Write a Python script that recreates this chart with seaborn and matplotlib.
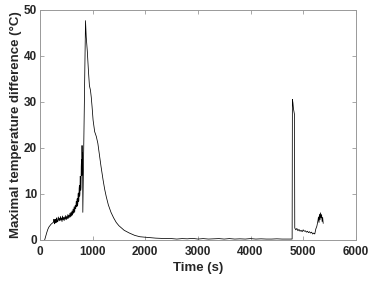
import matplotlib
matplotlib.use("Agg")
import matplotlib.pyplot as plt
import seaborn as sns
import pandas as pd

# start-up rise
t_start = [90, 110, 130, 150, 170, 190, 210, 230, 250]
v_start = [0.0, 0.8, 1.6, 2.3, 2.8, 3.1, 3.4, 3.6, 3.8]

# noisy build-up before the first peak
t_noisy = [260, 265, 270, 275, 280, 285, 290, 295, 300, 305, 310, 315, 320, 325,
           330, 340, 350, 360, 370, 380, 390, 400, 410, 420, 430, 440, 450, 460,
           470, 480, 490, 500, 510, 520, 530, 540, 550, 560, 570, 580, 590, 600,
           610, 620, 630, 640, 650, 660, 670, 680, 690, 700, 705, 710, 715, 720,
           725, 730, 735, 740, 745, 750, 755, 760, 765, 770, 775, 780, 785, 790,
           795, 800, 805, 810, 815]
v_noisy = [3.9, 4.5, 4.3, 3.5, 3.6, 4.4, 4.2, 3.7, 4.5, 3.9, 3.8, 4.8, 4.6, 3.9,
           4.0, 4.4, 5.0, 4.1, 4.7, 4.2, 5.1, 4.3, 4.8, 4.0, 5.2, 4.4, 4.9, 4.2,
           5.0, 4.5, 5.3, 4.4, 5.1, 4.6, 5.5, 4.7, 5.4, 4.9, 5.8, 5.0, 6.0, 5.2,
           6.3, 5.4, 6.7, 5.8, 7.2, 6.0, 7.5, 6.8, 8.4, 7.2, 8.8, 9.0, 7.4, 7.9,
           10.0, 10.2, 8.3, 8.6, 11.2, 11.8, 9.5, 10.0, 13.8, 13.5, 10.8, 11.5, 16.0, 17.5,
           14.0, 20.5, 16.0, 19.0, 6.0]

# main peak and decay
t_decay = [866, 880, 900, 920, 940, 960, 975, 990, 1010, 1040, 1070, 1100, 1130,
           1160, 1200, 1230, 1260, 1300, 1350, 1400, 1450, 1500, 1550, 1600, 1700,
           1800, 1900, 2000, 2100, 2200, 2300, 2400]
v_decay = [47.6, 44.0, 41.0, 37.0, 33.5, 32.5, 31.0, 29.0, 26.0, 23.5, 22.5, 21.0, 18.5,
           16.0, 13.0, 11.0, 9.4, 7.6, 6.0, 4.8, 3.8, 3.1, 2.6, 2.1, 1.5,
           1.0, 0.7, 0.6, 0.5, 0.4, 0.35, 0.3]

# flat stretch
t_flat = [2500, 2600, 2700, 2800, 2900, 3000, 3100, 3200, 3300, 3400, 3500, 3600,
          3700, 3800, 3900, 4000, 4100, 4200, 4300, 4400, 4500, 4600, 4700, 4790]
v_flat = [0.3, 0.2, 0.3, 0.25, 0.35, 0.2, 0.3, 0.2, 0.25, 0.3, 0.2, 0.3,
          0.2, 0.25, 0.2, 0.3, 0.2, 0.25, 0.2, 0.2, 0.25, 0.2, 0.2, 0.2]

# second event
t_end = [4795, 4805, 4815, 4825, 4835, 4840, 4860, 4880, 4900, 4920, 4940, 4960,
         4980, 5000, 5020, 5040, 5060, 5080, 5100, 5120, 5140, 5160, 5180, 5200,
         5220, 5240, 5260, 5280, 5290, 5300, 5310, 5320, 5330, 5340, 5350, 5360,
         5370, 5380]
v_end = [30.5, 29.8, 28.5, 27.8, 27.2, 2.6, 2.2, 2.5, 2.0, 2.3, 1.9, 2.1,
         1.8, 2.2, 1.9, 2.0, 1.7, 1.9, 1.6, 1.8, 1.5, 1.7, 1.3, 1.5,
         1.3, 2.4, 3.0, 4.2, 5.0, 3.8, 5.6, 4.4, 5.9, 4.8, 5.5, 4.0,
         4.9, 3.6]

df = pd.DataFrame({
    "time": t_start + t_noisy + t_decay + t_flat + t_end,
    "dT": v_start + v_noisy + v_decay + v_flat + v_end,
})

sns.set_style("ticks")
plt.rcParams["font.family"] = ["Liberation Sans", "DejaVu Sans"]
plt.rcParams["font.weight"] = "bold"

fig = plt.figure(figsize=(3.73, 2.82), dpi=100)
ax = fig.add_axes([0.107, 0.149, 0.847, 0.817])
sns.lineplot(data=df, x="time", y="dT", color="black", linewidth=0.55,
             estimator=None, sort=False, ax=ax)

ax.set_xlim(0, 6000)
ax.set_ylim(0, 50)
ax.set_xticks([0, 1000, 2000, 3000, 4000, 5000, 6000])
ax.set_yticks([0, 10, 20, 30, 40, 50])
ax.set_xlabel("Time (s)", fontsize=9.5, fontweight="bold", labelpad=3)
ax.set_ylabel("Maximal temperature difference (\u00b0C)", fontsize=9.5,
              fontweight="bold", labelpad=1)
ax.tick_params(direction="in", top=True, right=True, length=3, width=0.6,
               color="#999999", labelsize=8.5, pad=2)
ax.tick_params(axis="x", pad=4)
for lab in ax.get_xticklabels() + ax.get_yticklabels():
    lab.set_fontweight("bold")
for sp in ax.spines.values():
    sp.set_visible(True)
    sp.set_color("#999999")
    sp.set_linewidth(0.7)

fig.savefig("out.png", dpi=100)
